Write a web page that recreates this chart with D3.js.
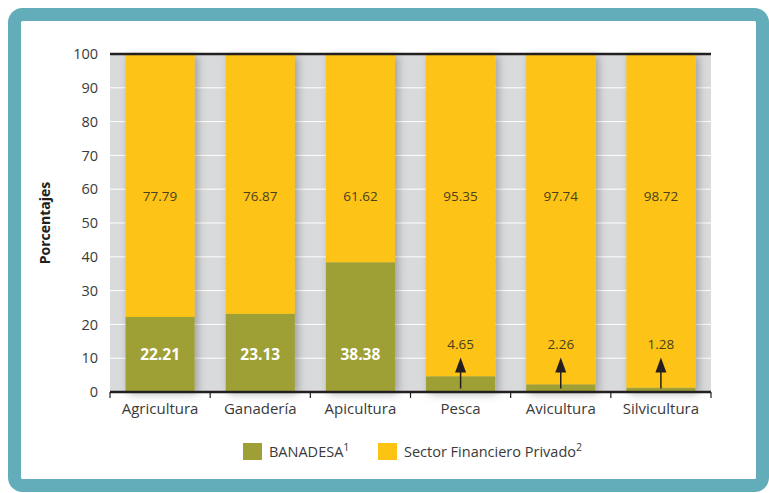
<!DOCTYPE html>
<html>
<head>
<meta charset="utf-8">
<script src="https://cdn.jsdelivr.net/npm/d3@7"></script>
<style>
  body { margin: 0; background: #fff; }
  svg { display: block; font-family: "Open Sans", "Noto Sans", sans-serif; }
</style>
</head>
<body>
<script>
var categories = ["Agricultura", "Ganadería", "Apicultura", "Pesca", "Avicultura", "Silvicultura"];
var banadesa = [22.21, 23.13, 38.38, 4.65, 2.26, 1.28];
var privado = [77.79, 76.87, 61.62, 95.35, 97.74, 98.72];
var yTicks = [0, 10, 20, 30, 40, 50, 60, 70, 80, 90, 100];
var seriesNames = ["BANADESA", "Sector Financiero Privado"];
var seriesSup = ["1", "2"];

var width = 769, height = 493;
var margin = { left: 110, right: 58, top: 54, bottom: 101 };
var colors = ["#9ea035", "#fdc313"];

var svg = d3.select("body").append("svg")
  .attr("width", width)
  .attr("height", height);

var defs = svg.append("defs");
var f = defs.append("filter").attr("id", "shadow")
  .attr("x", "-30%").attr("y", "-10%").attr("width", "160%").attr("height", "120%");
f.append("feDropShadow").attr("dx", 3).attr("dy", 2).attr("stdDeviation", 4)
  .attr("flood-color", "#000").attr("flood-opacity", 0.28);

// frame
svg.append("rect")
  .attr("x", 14.5).attr("y", 14.5)
  .attr("width", 748).attr("height", 471)
  .attr("rx", 8)
  .attr("fill", "#fff")
  .attr("stroke", "#62adb9")
  .attr("stroke-width", 13);

var x = d3.scaleBand()
  .domain(categories)
  .range([margin.left, width - margin.right])
  .paddingInner(0.31)
  .paddingOuter(0.155);

var y = d3.scaleLinear()
  .domain([0, 100])
  .range([height - margin.bottom, margin.top]);

// plot background
svg.append("rect")
  .attr("x", margin.left).attr("y", y(100))
  .attr("width", width - margin.right - margin.left)
  .attr("height", y(0) - y(100))
  .attr("fill", "#d9dadc");

// gridlines
svg.append("g").selectAll("line")
  .data(yTicks.filter(function (d) { return d > 0 && d < 100; }))
  .enter().append("line")
  .attr("x1", margin.left).attr("x2", width - margin.right)
  .attr("y1", function (d) { return y(d); })
  .attr("y2", function (d) { return y(d); })
  .attr("stroke", "#fff")
  .attr("stroke-width", 1);

// bars
var stacked = categories.map(function (c, i) {
  return [
    { cat: c, y0: 0, y1: banadesa[i], s: 0 },
    { cat: c, y0: banadesa[i], y1: 100, s: 1 }
  ];
});

var barG = svg.append("g").selectAll("g")
  .data(stacked)
  .enter().append("g")
  .attr("filter", "url(#shadow)");

barG.selectAll("rect")
  .data(function (d) { return d; })
  .enter().append("rect")
  .attr("x", function (d) { return x(d.cat); })
  .attr("width", x.bandwidth())
  .attr("y", function (d) { return y(d.y1); })
  .attr("height", function (d) { return y(d.y0) - y(d.y1); })
  .attr("fill", function (d) { return colors[d.s]; });

// top line at 100
svg.append("line")
  .attr("x1", margin.left).attr("x2", width - margin.right)
  .attr("y1", y(100)).attr("y2", y(100))
  .attr("stroke", "#231f20").attr("stroke-width", 2.5);

// y axis labels
var yAxis = d3.axisLeft(y).tickValues(yTicks).tickSize(0).tickPadding(12);
var yg = svg.append("g")
  .attr("transform", "translate(" + margin.left + ",0)")
  .call(yAxis);
yg.select(".domain").remove();
yg.selectAll("text")
  .attr("font-size", 14.5).attr("fill", "#3a3a3a")
  .attr("font-family", "Open Sans, sans-serif");

// x axis
var xAxis = d3.axisBottom(x).tickSize(0).tickPadding(11);
var xg = svg.append("g")
  .attr("transform", "translate(0," + y(0) + ")")
  .call(xAxis);
xg.select(".domain").remove();
xg.selectAll("text")
  .attr("font-size", 15).attr("fill", "#3a3a3a")
  .attr("font-family", "Open Sans, sans-serif");

svg.append("line")
  .attr("x1", margin.left).attr("x2", width - margin.right)
  .attr("y1", y(0)).attr("y2", y(0))
  .attr("stroke", "#231f20").attr("stroke-width", 2.5);

var step = x.step();
var boundaries = d3.range(categories.length + 1).map(function (i) {
  return margin.left + i * step;
});
svg.append("g").selectAll("line")
  .data(boundaries)
  .enter().append("line")
  .attr("x1", function (d) { return d; })
  .attr("x2", function (d) { return d; })
  .attr("y1", y(0)).attr("y2", y(0) + 6)
  .attr("stroke", "#231f20").attr("stroke-width", 1.2);

// y title
svg.append("text")
  .attr("transform", "translate(50," + y(50) + ") rotate(-90)")
  .attr("text-anchor", "middle")
  .attr("font-size", 14).attr("font-weight", "bold")
  .attr("fill", "#231f20")
  .text("Porcentajes");

// labels for private sector
svg.append("g").selectAll("text")
  .data(categories)
  .enter().append("text")
  .attr("x", function (d) { return x(d) + x.bandwidth() / 2; })
  .attr("y", y(56.5))
  .attr("text-anchor", "middle")
  .attr("font-size", 13.5).attr("fill", "#4a3f20")
  .text(function (d, i) { return privado[i].toFixed(2); });

// labels for BANADESA
svg.append("g").selectAll("text")
  .data(categories)
  .enter().append("text")
  .attr("x", function (d) { return x(d) + x.bandwidth() / 2; })
  .attr("y", function (d, i) { return banadesa[i] > 10 ? y(9.6) : y(12.7); })
  .attr("text-anchor", "middle")
  .attr("font-size", function (d, i) { return banadesa[i] > 10 ? 15.5 : 13.5; })
  .attr("font-weight", function (d, i) { return banadesa[i] > 10 ? "bold" : "normal"; })
  .attr("fill", function (d, i) { return banadesa[i] > 10 ? "#fff" : "#4a3f20"; })
  .text(function (d, i) { return banadesa[i].toFixed(2); });

// arrows for small values
var small = categories.filter(function (d, i) { return banadesa[i] < 10; });
var arrows = svg.append("g").selectAll("g")
  .data(small)
  .enter().append("g")
  .attr("transform", function (d) {
    return "translate(" + (x(d) + x.bandwidth() / 2) + ",0)";
  });
arrows.append("line")
  .attr("x1", 0).attr("x2", 0)
  .attr("y1", y(1)).attr("y2", y(8))
  .attr("stroke", "#231f20").attr("stroke-width", 1.5);
arrows.append("path")
  .attr("d", function () {
    var t = y(10.2), b = y(5.8);
    return "M0," + t + "L-5.5," + b + "L5.5," + b + "Z";
  })
  .attr("fill", "#231f20");

// legend
var legend = svg.append("g").attr("transform", "translate(243,443)");
var legX = [0, 135];
seriesNames.forEach(function (name, i) {
  var g = legend.append("g").attr("transform", "translate(" + legX[i] + ",0)");
  g.append("rect").attr("width", 19).attr("height", 17).attr("fill", colors[i]);
  var t = g.append("text")
    .attr("x", 26).attr("y", 14)
    .attr("font-size", 14.5).attr("fill", "#3a3a3a");
  t.append("tspan").text(name);
  t.append("tspan").attr("font-size", 10.5).attr("dy", -6).text(seriesSup[i]);
});
</script>
</body>
</html>
